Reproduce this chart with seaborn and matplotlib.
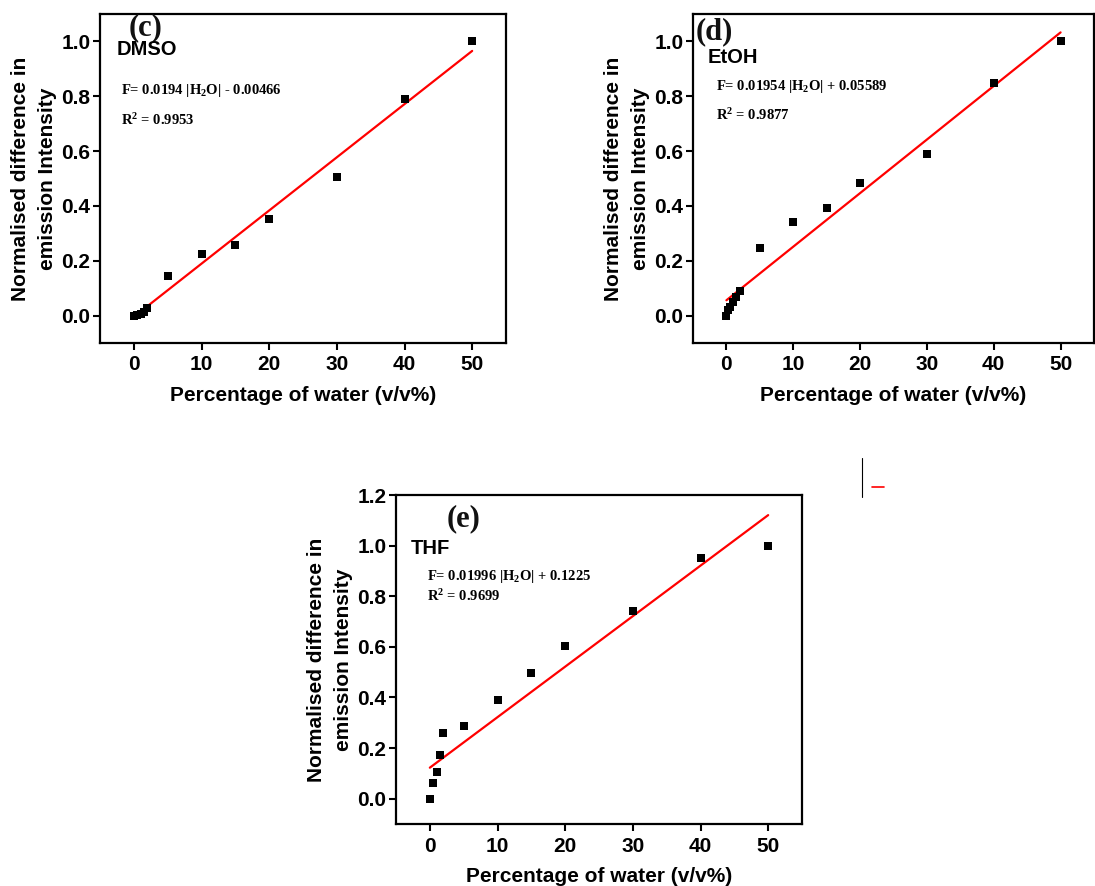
import numpy as np
import pandas as pd
import matplotlib
matplotlib.use("Agg")
import matplotlib.pyplot as plt
import seaborn as sns
from matplotlib.lines import Line2D

# ---------------- data ----------------
water_c = [0, 0.5, 1, 1.5, 2, 5, 10, 15, 20, 30, 40, 50]
dmso = [0.0, 0.003, 0.007, 0.012, 0.028, 0.143, 0.224, 0.258, 0.354, 0.507, 0.79, 1.0]

water_d = [0, 0.25, 0.5, 1, 1.5, 2, 5, 10, 15, 20, 30, 40, 50]
etoh = [0.0, 0.02, 0.033, 0.05, 0.068, 0.09, 0.247, 0.343, 0.392, 0.485, 0.591, 0.85, 1.0]

water_e = [0, 0.5, 1, 1.5, 2, 5, 10, 15, 20, 30, 40, 50]
thf = [0.0, 0.061, 0.107, 0.172, 0.259, 0.286, 0.389, 0.497, 0.604, 0.742, 0.95, 1.0]

# linear fits (slope, intercept) as printed on the chart
fit_c = (0.0194, -0.00466)
fit_d = (0.01954, 0.05589)
fit_e = (0.01996, 0.1225)
fit_range = [0, 50]

panel_labels = ["(c)", "(d)", "(e)"]
solvents = ["DMSO", "EtOH", "THF"]
equations = [r"F= 0.0194 |H$_2$O| - 0.00466",
             r"F= 0.01954 |H$_2$O| + 0.05589",
             r"F= 0.01996 |H$_2$O| + 0.1225"]
r2_texts = [r"R$^2$ = 0.9953", r"R$^2$ = 0.9877", r"R$^2$ = 0.9699"]
xticks = [0, 10, 20, 30, 40, 50]
xlabel = "Percentage of water (v/v%)"
ylabel = "Normalised difference in\nemission Intensity"

# ---------------- style ----------------
sns.set_style("ticks")
plt.rcParams["font.family"] = ["Liberation Sans", "DejaVu Sans"]
plt.rcParams["font.weight"] = "bold"
for key in ["text.color", "axes.labelcolor", "xtick.color", "ytick.color", "axes.edgecolor"]:
    plt.rcParams[key] = "black"
plt.rcParams["mathtext.fontset"] = "custom"
plt.rcParams["mathtext.rm"] = "Liberation Serif:bold"
plt.rcParams["mathtext.it"] = "Liberation Serif:bold"
plt.rcParams["mathtext.bf"] = "Liberation Serif:bold"

W, H = 1095, 886
fig = plt.figure(figsize=(W / 100, H / 100), dpi=100)
fig.patch.set_facecolor("white")

def px_axes(left, top, right, bottom):
    return fig.add_axes([left / W, 1 - bottom / H, (right - left) / W, (bottom - top) / H])

ax_c = px_axes(100, 14, 506, 343)
ax_d = px_axes(693, 14, 1094, 343)
ax_e = px_axes(396, 495, 802, 824)

panels = [
    (ax_c, water_c, dmso, fit_c, (-0.1, 1.1), [0.0, 0.2, 0.4, 0.6, 0.8, 1.0]),
    (ax_d, water_d, etoh, fit_d, (-0.1, 1.1), [0.0, 0.2, 0.4, 0.6, 0.8, 1.0]),
    (ax_e, water_e, thf, fit_e, (-0.1, 1.2), [0.0, 0.2, 0.4, 0.6, 0.8, 1.0, 1.2]),
]

# text positions in data coords (label, solvent, eq, r2)
text_pos = [
    dict(lab=(1.8, 1.05), sol=(-2.5, 0.97), eq=(-1.9, 0.82), r2=(-1.9, 0.715)),
    dict(lab=(-1.8, 1.036), sol=(-2.8, 0.94), eq=(-1.5, 0.836), r2=(-1.5, 0.73)),
    dict(lab=(5.0, 1.106), sol=(-2.8, 0.99), eq=(-0.4, 0.878), r2=(-0.4, 0.80)),
]

for i, (ax, xs, ys, fit, ylim, yticks) in enumerate(panels):
    df = pd.DataFrame({"x": xs, "y": ys})
    fx = np.array(fit_range, dtype=float)
    fdf = pd.DataFrame({"x": fx, "y": fit[0] * fx + fit[1]})
    sns.lineplot(data=fdf, x="x", y="y", ax=ax, color="#ff0000", linewidth=1.6, zorder=2)
    sns.scatterplot(data=df, x="x", y="y", ax=ax, marker="s", s=40, color="black",
                    linewidth=0, zorder=3)
    ax.set_xlim(-5, 55)
    ax.set_ylim(*ylim)
    ax.set_xticks(xticks)
    ax.set_yticks(yticks)
    ax.set_xticklabels([str(t) for t in xticks], fontsize=15, fontweight="bold")
    ax.set_yticklabels([f"{t:.1f}" for t in yticks], fontsize=15, fontweight="bold")
    ax.tick_params(axis="both", direction="out", length=5, width=1.5, pad=2, color="black",
                   labelcolor="black")
    ax.tick_params(axis="x", pad=4)
    for sp in ax.spines.values():
        sp.set_visible(True)
        sp.set_linewidth(1.6)
        sp.set_color("black")
    ax.set_xlabel(xlabel, fontsize=15, fontweight="bold", labelpad=8, color="black")
    ax.set_ylabel(ylabel, fontsize=15, fontweight="bold", labelpad=3, linespacing=1.5,
                  color="black")
    ax.set_facecolor("white")
    tp = text_pos[i]
    ax.text(*tp["lab"], panel_labels[i], family="Liberation Serif", fontweight="bold",
            fontsize=22, ha="center", va="center", color="#111111")
    ax.text(*tp["sol"], solvents[i], fontsize=14.5, fontweight="bold", ha="left", va="center",
            color="black")
    ax.text(*tp["eq"], equations[i], family="Liberation Serif", fontweight="bold",
            fontsize=10.5, ha="left", va="center", color="black")
    ax.text(*tp["r2"], r2_texts[i], family="Liberation Serif", fontweight="bold",
            fontsize=10.5, ha="left", va="center", color="black")

# stray legend fragment visible at the right of panel (e)
fig.add_artist(Line2D([862 / W, 862 / W], [1 - 458 / H, 1 - 497 / H], color="black", linewidth=0.8))
fig.add_artist(Line2D([872 / W, 884 / W], [1 - 487 / H, 1 - 487 / H], color="#ff0000", linewidth=1.2))

fig.savefig("out.png", dpi=100, facecolor="white")
